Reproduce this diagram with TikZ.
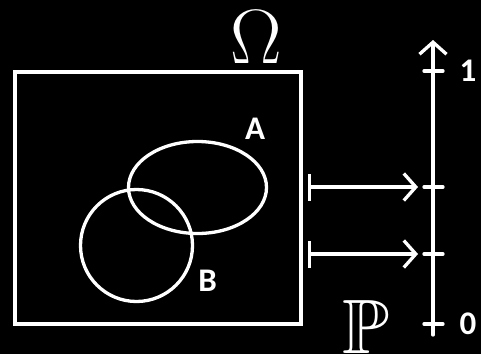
\documentclass[tikz,border=0pt]{standalone}
\usepackage{amssymb}
\usepackage{fontspec}
\newfontfamily\labelfont{Carlito}
\usetikzlibrary{arrows.meta}
\begin{document}
\begin{tikzpicture}[x=1pt,y=-1pt,line join=round,line cap=round,line width=3.3pt,draw=white,
	>={Straight Barb[length=12pt,width=27pt]}]
	\tikzset{every node/.style={text=white,inner sep=0pt},
		lbl/.style={font=\labelfont\bfseries\fontsize{33}{33}\selectfont},
		big/.style={font=\fontsize{24.88}{24.88}\selectfont,scale=3.1,anchor=base}}
	\fill[black] (0,0) rectangle (481,354);
	\useasboundingbox (0,0) rectangle (481,354);
	% sample space
	\node[draw,line join=miter,minimum width=286pt,minimum height=252pt] (space) at (158,198) {};
	\node[big] (omega) at (256,63) {$\Omega$};
	\draw (197.5,187.5) ellipse [x radius=69pt,y radius=46pt];
	\draw (136.5,245.5) circle [radius=56pt];
	\node[lbl] (evA) at (255,129) {A};
	\node[lbl] (evB) at (207.5,281) {B};
	% probability axis
	\coordinate (bot) at (433,335);
	\coordinate (top) at (433,40);
	\draw[->] (bot) -- (top);
	\foreach \y/\n in {71/one,187/pa,254/pb,324/zero}
	\draw (424,\y) coordinate (\n) -- (443,\y);
	\node[lbl] (lone) at (468,71) {1};
	\node[lbl] (lzero) at (468,324) {0};
	\node[big] (prob) at (366.5,353) {$\mathbb{P}$};
	% maps
	\foreach \n in {pa,pb}
	\draw[{Bar[width=27pt]}->] (space.east |- \n) ++(5,0) -- ([xshift=-6pt]\n);
\end{tikzpicture}
\end{document}
